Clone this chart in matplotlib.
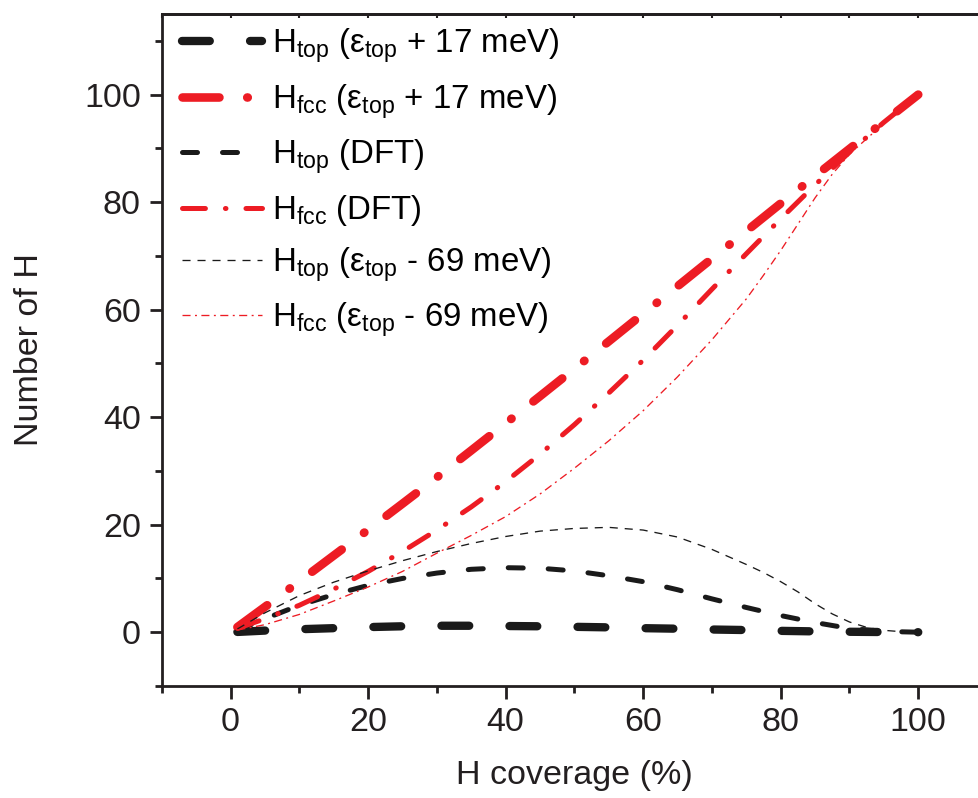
import numpy as np
import matplotlib
matplotlib.use("Agg")
import matplotlib.pyplot as plt

plt.rcParams['font.family'] = ['Liberation Sans', 'DejaVu Sans']
plt.rcParams['mathtext.fontset'] = 'custom'
plt.rcParams['mathtext.rm'] = 'Liberation Sans'
plt.rcParams['mathtext.default'] = 'regular'
plt.rcParams['lines.scale_dashes'] = False

# ---- data ----
coverage = [1, 5, 10, 15, 20, 25, 30, 35, 40, 45, 50, 55, 60, 65, 70, 75, 80, 85, 90, 95, 100]

htop_p17 = [0.05, 0.3, 0.55, 0.75, 0.95, 1.1, 1.2, 1.2, 1.15, 1.1, 1.0, 0.9, 0.75, 0.65, 0.5,
            0.4, 0.25, 0.15, 0.08, 0.03, 0.0]
hfcc_p17 = [0.95, 4.7, 9.45, 14.25, 19.05, 23.9, 28.8, 33.8, 38.85, 43.9, 49.0, 54.1, 59.25,
            64.35, 69.5, 74.6, 79.75, 84.85, 89.9, 94.97, 100.0]
htop_dft = [0.3, 2.5, 5.0, 7.0, 8.7, 10.0, 11.0, 11.7, 12.0, 11.9, 11.4, 10.5, 9.4, 7.9, 6.2,
            4.6, 3.1, 1.8, 0.7, 0.15, 0.0]
hfcc_dft = [0.7, 2.5, 5.0, 8.0, 11.3, 15.0, 19.0, 23.3, 28.0, 33.1, 38.6, 44.5, 50.6, 57.1,
            63.8, 70.4, 76.9, 83.2, 89.3, 94.85, 100.0]

coverage_m69 = [1, 5, 10, 15, 20, 25, 30, 35, 40, 45, 50, 55, 60, 65, 70, 75, 77.5, 80,
                82.5, 85, 87.5, 90, 92.5, 95, 97.5, 100]
htop_m69 = [0.6, 3.6, 6.8, 9.3, 11.4, 13.3, 15.0, 16.5, 17.8, 18.8, 19.3, 19.5, 19.0, 17.7,
            15.4, 12.6, 11.1, 9.4, 7.5, 5.3, 3.4, 1.9, 0.9, 0.35, 0.1, 0.0]
hfcc_m69 = [0.4, 1.4, 3.3, 5.8, 8.4, 11.3, 14.7, 18.0, 21.5, 25.7, 30.5, 35.6, 41.2, 47.5,
            54.4, 62.0, 66.4, 71.0, 75.9, 80.8, 85.2, 88.9, 91.8, 94.6, 97.3, 100.0]

labels = [
    r'H$_{top}$ (ε$_{top}$ + 17 meV)',
    r'H$_{fcc}$ (ε$_{top}$ + 17 meV)',
    r'H$_{top}$ (DFT)',
    r'H$_{fcc}$ (DFT)',
    r'H$_{top}$ (ε$_{top}$ - 69 meV)',
    r'H$_{fcc}$ (ε$_{top}$ - 69 meV)',
]

x_ticks = [0, 20, 40, 60, 80, 100]
y_ticks = [0, 20, 40, 60, 80, 100]

BLACK = '#1a1a1a'
RED = '#ed1c24'
AX = '#231f20'

fig = plt.figure(figsize=(9.79, 7.98), dpi=100)
ax = fig.add_axes([0.1652, 0.1404, 0.843, 0.8421])

ax.plot(coverage, htop_p17, color=BLACK, lw=6.0, dashes=[20, 29],
        dash_capstyle='round', label=labels[0])
ax.plot(coverage, hfcc_p17, color=RED, lw=6.2, dashes=[26.6, 20, 0.4, 20],
        dash_capstyle='round', label=labels[1])
ax.plot(coverage, htop_dft, color=BLACK, lw=3.6, dashes=[10.8, 18],
        dash_capstyle='round', label=labels[2])
ax.plot(coverage, hfcc_dft, color=RED, lw=3.6, dashes=[16.5, 14.4, 0.4, 14.4],
        dash_capstyle='round', label=labels[3])
ax.plot(coverage_m69, htop_m69, color=BLACK, lw=0.95, dashes=[5.8, 5.0],
        label=labels[4])
ax.plot(coverage_m69, hfcc_m69, color=RED, lw=0.95, dashes=[5.8, 3.2, 1.4, 3.2],
        label=labels[5])

ax.set_xlim(-10, 110)
ax.set_ylim(-10, 115)
ax.set_xticks(x_ticks)
ax.set_yticks(y_ticks)
ax.set_xticks(np.arange(-10, 111, 10), minor=True)
ax.set_yticks(np.arange(-10, 115, 10), minor=True)

for s in ['left', 'bottom', 'top']:
    ax.spines[s].set_linewidth(2.0)
    ax.spines[s].set_color(AX)
ax.spines['right'].set_visible(False)

ax.tick_params(axis='both', which='major', direction='out', length=9, width=2,
               labelsize=24.5, pad=6, colors=AX, labelcolor=AX)
ax.tick_params(axis='both', which='minor', direction='out', length=5, width=2, colors=AX)
ax.tick_params(top=False, right=False)

sec = ax.secondary_xaxis('top')
sec.set_xticks(np.arange(-10, 111, 10))
sec.tick_params(direction='in', length=3, width=1.5, colors=AX, labeltop=False)
sec.spines['top'].set_linewidth(2.0)
sec.spines['top'].set_color(AX)

ax.set_xlabel('H coverage (%)', fontsize=24.5, labelpad=16, color=AX)
ax.set_ylabel('Number of H', fontsize=24.5, color=AX)
ax.yaxis.set_label_coords(-0.142, 0.5)

leg = ax.legend(loc='upper left', bbox_to_anchor=(0.024, 0.981), frameon=False,
                fontsize=23.8, handlelength=2.42, handletextpad=0.33,
                labelspacing=0.515, borderpad=0, borderaxespad=0)

fig.savefig('out.png', dpi=100)
